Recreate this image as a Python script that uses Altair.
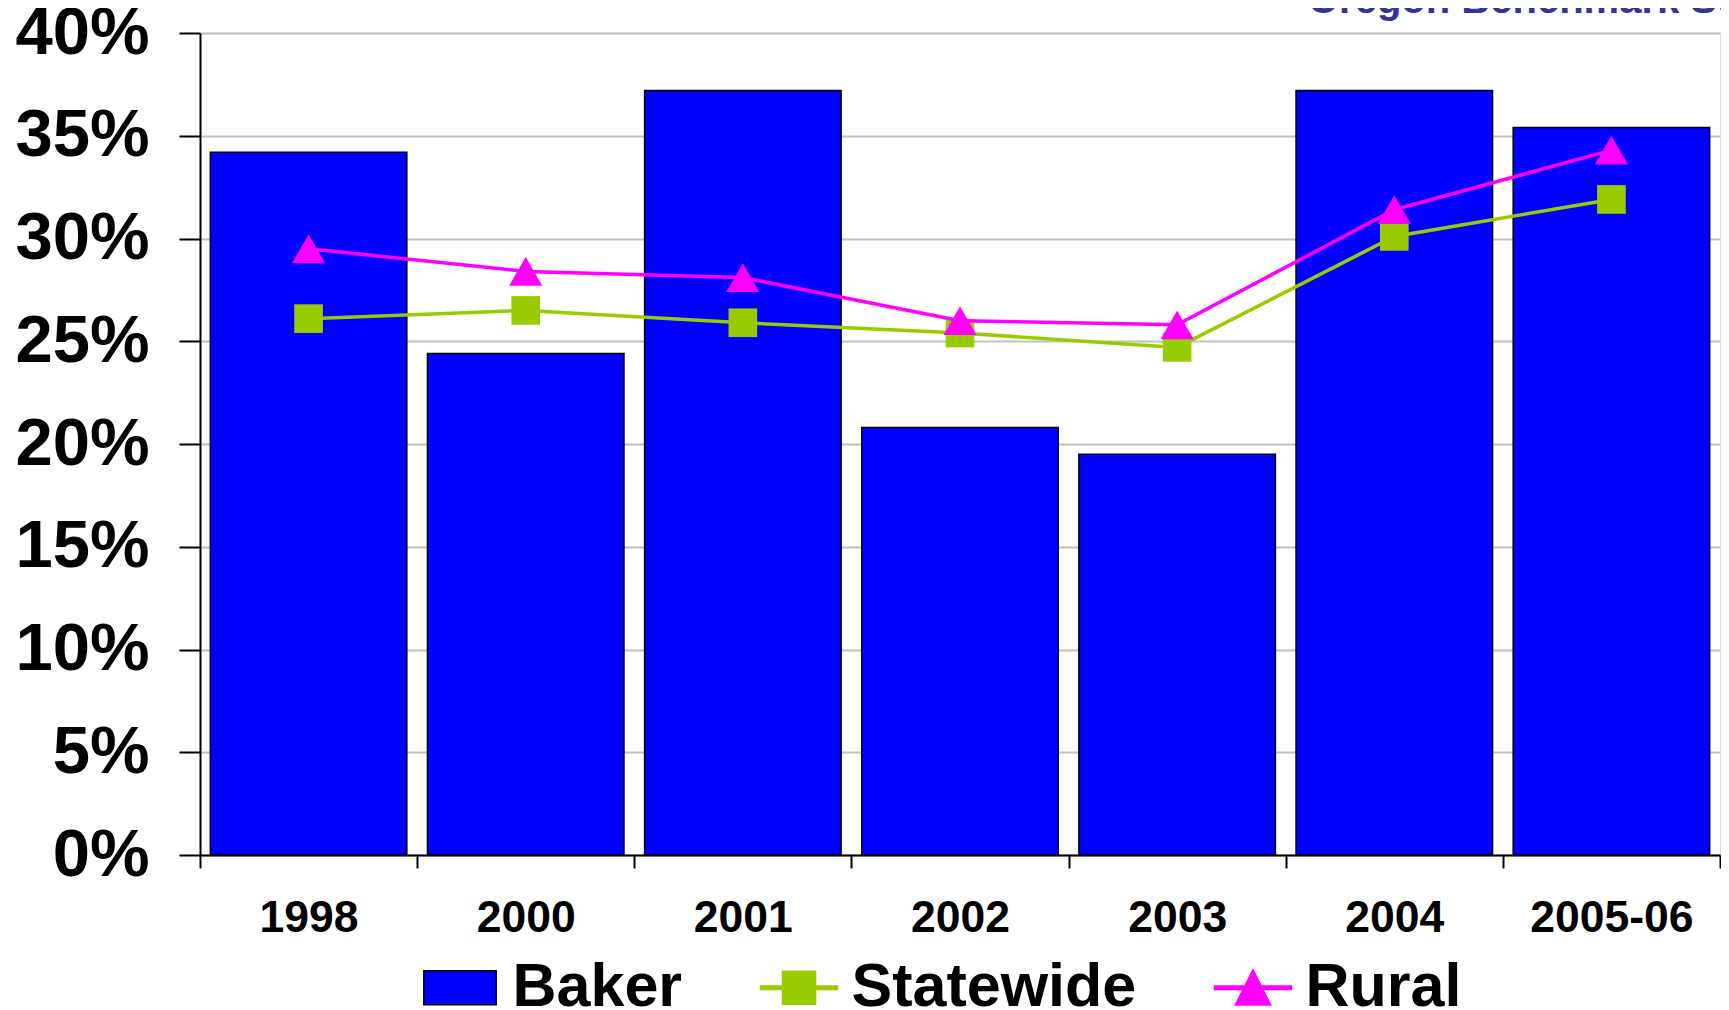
import altair as alt
import pandas as pd

categories = ["1998", "2000", "2001", "2002", "2003", "2004", "2005-06"]
baker = [34.2, 24.4, 37.2, 20.8, 19.5, 37.2, 35.4]
statewide = [26.1, 26.5, 25.9, 25.4, 24.7, 30.1, 31.9]
rural = [29.5, 28.4, 28.1, 26.0, 25.8, 31.4, 34.3]
series_names = ["Baker", "Statewide", "Rural"]
series_fill = ["#0000FF", "#99CC00", "#FF00FF"]
series_stroke = ["#000000", "#99CC00", "#FF00FF"]
y_ticks = [0, 5, 10, 15, 20, 25, 30, 35, 40]
title_text = "Oregon Benchmark Survey"

legend_paths = [
    "M-0.94,-0.44H0.94V0.44H-0.94Z",
    "M-1,-0.045H1V0.045H-1Z M-0.43,-0.43H0.43V0.43H-0.43Z",
    "M-1,-0.045H1V0.045H-1Z M0,-0.47L0.46,0.45L-0.46,0.45Z",
]

FONT = "Liberation Sans"

bars_df = pd.DataFrame({"year": categories, "value": baker, "series": "Baker"})
lines_df = pd.DataFrame({
    "year": categories * 2,
    "value": statewide + rural,
    "series": ["Statewide"] * len(categories) + ["Rural"] * len(categories),
})

x_enc = alt.X(
    "year:N", sort=categories,
    scale=alt.Scale(paddingInner=0, paddingOuter=0),
    axis=alt.Axis(title=None, labelAngle=0, labelFontSize=44.5, labelFont=FONT,
                  labelFontWeight="bold", labelColor="black", tickBand="extent",
                  tickSize=13, tickColor="black", tickWidth=2, domainColor="black",
                  domainWidth=2, labelPadding=28, grid=False),
)
y_enc = alt.Y(
    "value:Q", scale=alt.Scale(domain=[0, 40], nice=False),
    axis=alt.Axis(title=None, values=y_ticks, labelExpr="datum.value + '%'",
                  labelFontSize=67, labelFont=FONT, labelFontWeight="bold",
                  labelColor="black", tickSize=21, tickColor="black", tickWidth=2,
                  domainColor="black", domainWidth=2, labelPadding=30,
                  gridColor="#c0c0c0", gridWidth=2),
)

bars = alt.Chart(bars_df).mark_bar(
    color="#0000FF", stroke="black", strokeWidth=1.5,
    width=alt.RelativeBandSize(0.905)).encode(x=x_enc, y=y_enc)

def series_layers(name, color, shape, size):
    base = alt.Chart(lines_df).transform_filter(alt.datum.series == name)
    line = base.mark_line(color=color, strokeWidth=3.5).encode(x=x_enc, y=y_enc)
    pts = base.mark_point(shape=shape, filled=True, color=color, size=size,
                          opacity=1, strokeWidth=0).encode(x=x_enc, y=y_enc)
    return line + pts

statewide_layer = series_layers("Statewide", "#99CC00", "square", 820)
rural_layer = series_layers("Rural", "#FF00FF", "triangle-up", 1100)

leg = alt.Legend(title=None, orient="none", legendX=220.5, legendY=915,
                 direction="horizontal", columns=3, symbolSize=5929,
                 labelFontSize=61, labelFont=FONT, labelFontWeight="bold",
                 labelColor="black", labelOffset=13, columnPadding=75, padding=0,
                 symbolStrokeWidth=1.5, labelLimit=600)

legend_layer = alt.Chart(lines_df).transform_filter("false").mark_point(
    filled=True, opacity=1, strokeWidth=1.5).encode(
    x=x_enc, y=y_enc,
    color=alt.Color("series:N", scale=alt.Scale(domain=series_names, range=series_fill), legend=leg),
    stroke=alt.Stroke("series:N", scale=alt.Scale(domain=series_names, range=series_stroke), legend=leg),
    shape=alt.Shape("series:N", scale=alt.Scale(domain=series_names, range=legend_paths), legend=leg),
)

title_layer = alt.Chart(pd.DataFrame({"t": [title_text]})).mark_text(
    align="left", baseline="alphabetic", fontSize=40, font=FONT, fontWeight="bold",
    color="#333399").encode(text="t:N", x=alt.value(1108), y=alt.value(-20))

chart = alt.layer(bars, statewide_layer, rural_layer, legend_layer, title_layer).properties(
    width=1520, height=822,
    padding={"left": 192, "top": 25, "right": 1, "bottom": 155},
    autosize=alt.AutoSizeParams(type="none"),
).configure_view(stroke="#c0c0c0", strokeWidth=2).configure(background="white")

chart.save("out.html", embed_options={"renderer": "svg", "actions": False})
